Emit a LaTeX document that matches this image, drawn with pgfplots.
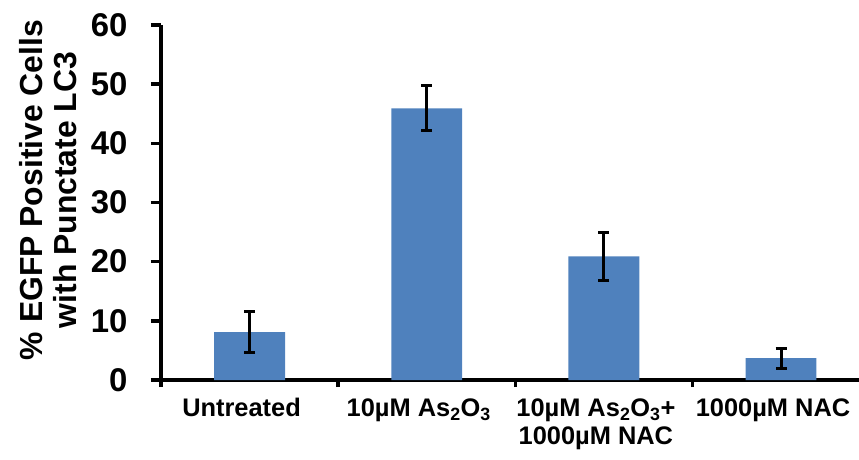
\documentclass[border=0pt]{standalone}
\usepackage{fontspec}
\setmainfont{Liberation Sans}
\usepackage{pgfplots}
\pgfplotsset{compat=1.18}
\definecolor{barblue}{RGB}{79,129,189}

\begin{document}
\begin{tikzpicture}
\begin{axis}[
    scale only axis, width=698bp, height=355bp,
    xmin=-0.5, xmax=3.44, ymin=0, ymax=60,
    ybar, bar width=0.4,
    axis lines*=left,
    axis line style={line width=3.5bp, -},
    ytick={0,10,...,60},
    xtick={0,1,2,3},
    xticklabels={Untreated, 10µM As\textsubscript{2}O\textsubscript{3}, {10µM As\textsubscript{2}O\textsubscript{3}+\\1000µM NAC}, 1000µM NAC},
    minor xtick={-0.5,0.5,1.5,2.5},
    tick align=outside,
    major tick length=10bp, minor tick length=7bp,
    tick style={line width=3.5bp, black},
    major x tick style={draw=none},
    /pgf/number format/assume math mode=true,
    yticklabel style={font=\bfseries\fontsize{33}{33}\selectfont, xshift=-20bp},
    xticklabel style={font=\bfseries\fontsize{25.5}{28}\selectfont, align=center, xshift=-8bp, yshift=-5bp},
    ylabel={\% EGFP Positive Cells\\with Punctate LC3},
    ylabel style={font=\bfseries\fontsize{32}{34}\selectfont, align=center,
        at={(axis description cs:-0.162,0.535)}, anchor=center, rotate=0},
]
\addplot[fill=barblue, draw=none,
    error bars/.cd, y dir=both, y explicit,
    error bar style={line width=3bp, black},
    error mark=|,
    error mark options={black, line width=3bp, mark size=5.5bp}]
coordinates {
    (0,8.1) +- (0,3.4)
    (1,45.9) +- (0,3.8)
    (2,20.9) +- (0,4.1)
    (3,3.7) +- (0,1.7)
};
\end{axis}
\pgfresetboundingbox
\path[use as bounding box] (-161bp,-80bp) rectangle (698bp,380bp);
\end{tikzpicture}
\end{document}
